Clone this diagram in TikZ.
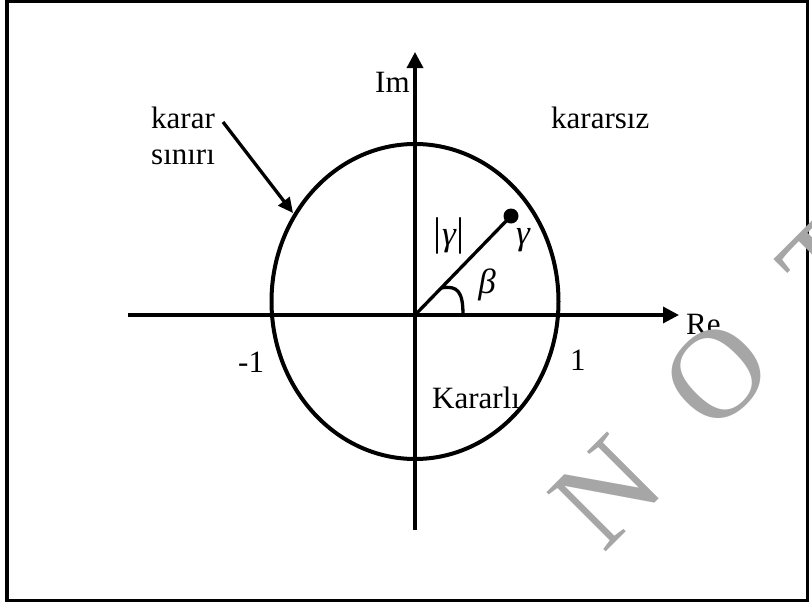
\documentclass[tikz,border=0pt]{standalone}
\usepackage{fontspec}
\setmainfont{Liberation Serif}
\usetikzlibrary{arrows.meta,shapes.geometric}
\definecolor{wm}{HTML}{A6A6A6}
\begin{document}
\begin{tikzpicture}[x=1pt,y=-1pt,
  lbl/.style={inner sep=0pt, font=\fontsize{31}{36}\selectfont},
  grk/.style={inner sep=0pt, font=\fontsize{35}{40}\selectfont\itshape},
  axis/.style={line width=3.4pt, -{Triangle[length=16pt,width=16pt]}},
  thin/.style={line width=3.3pt},
  wmark/.style={inner sep=0pt, text=wm, rotate=45, font=\fontsize{128}{132}\selectfont}]
\useasboundingbox (0,0) rectangle (812,606);
\clip (0,0) rectangle (812,606);
\draw[line width=3.8pt] (7.2,1.5) rectangle (807.5,600.5);

% axes
\coordinate (O) at (415,315);
\coordinate (xl) at (128,315);
\coordinate (xr) at (679,315);
\coordinate (yb) at (415,530);
\coordinate (yt) at (415,52);
\draw[axis] (xl) -- (xr);
\draw[axis] (yb) -- (yt);

% boundary
\node[draw, ellipse, line width=4pt, inner sep=0pt, minimum width=287pt, minimum height=315pt] (bound) at (415,301.5) {};

% ray and point
\node[circle, fill, inner sep=0pt, minimum size=15pt] (g) at (511,216) {};
\draw[thin] (O) -- (g.center);
\coordinate (a1) at (441,288);
\coordinate (a2) at (463,315);
\draw[thin] (a1) .. controls (458,285) and (463,292) .. (a2);

% labels
\node[lbl, anchor=base west] (im) at (375,92) {Im};
\node[lbl, anchor=base west] (re) at (686,334) {Re};
\node[lbl, anchor=base west] (karar) at (151,128) {karar};
\node[lbl, anchor=base west] (sinir) at (151,164) {sınırı};
\node[lbl, anchor=base west] (kararsiz) at (551,128) {kararsız};
\node[lbl, anchor=base west] (m1) at (238,372) {-1};
\node[lbl, anchor=base west] (p1) at (570,370) {1};
\node[lbl, anchor=base west] (kararli) at (432,408) {Kararlı};
\node[inner sep=0pt] (absg) at (449,236) {\fontsize{40}{44}\selectfont|\kern1pt{\fontsize{35}{40}\selectfont\itshape γ}\kern1pt|};
\node[grk] (gam) at (523,240) {γ};
\node[grk] (bet) at (487,285) {β};

% pointer arrow
\coordinate (ks) at (223,122);
\coordinate (kt) at (293,213);
\draw[line width=3.3pt, -{Triangle[length=15pt,width=14pt]}] (ks) -- (kt);

% watermark
\node[wmark] (wn) at (607,492) {N};
\node[wmark] (wo) at (717,374) {O};
\node[wmark] (wt) at (830,263) {T};
\end{tikzpicture}
\end{document}
